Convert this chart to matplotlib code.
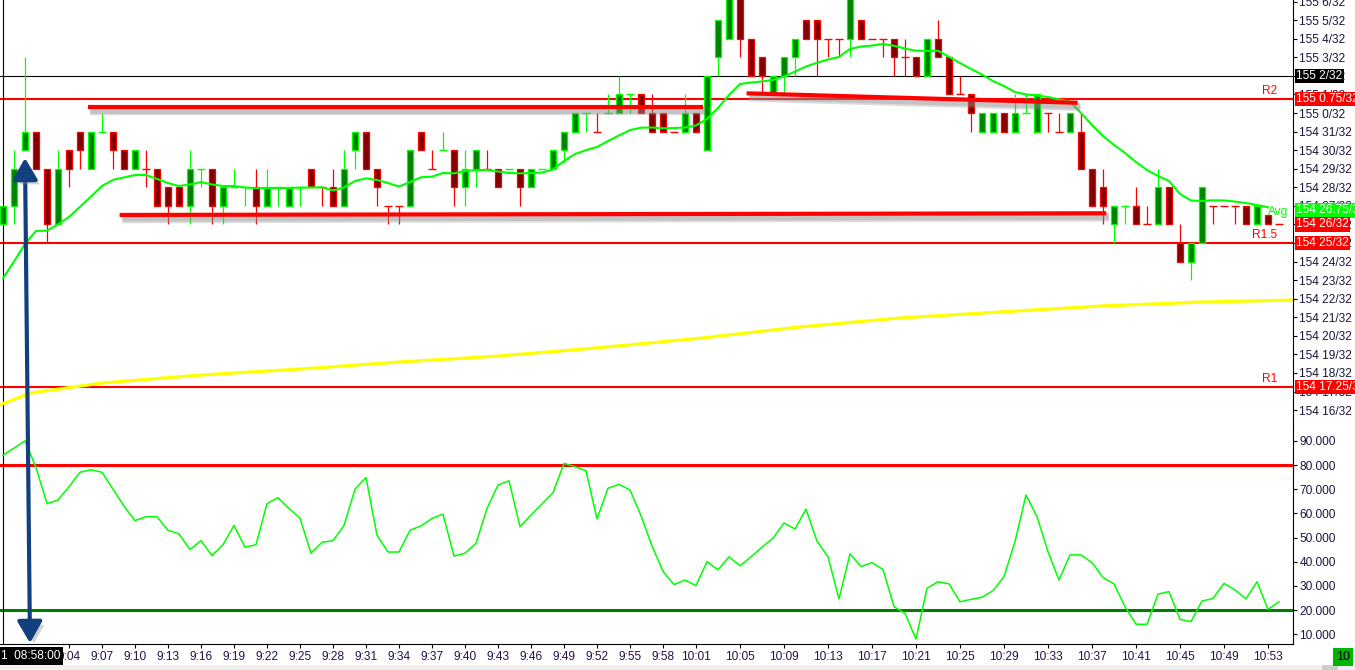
import numpy as np
import matplotlib
matplotlib.use("Agg")
import matplotlib.pyplot as plt
import matplotlib.patheffects as pe
from matplotlib.patches import FancyArrowPatch, Rectangle, ArrowStyle

plt.rcParams['font.family'] = ['Liberation Sans', 'DejaVu Sans']

# one candle per minute, first bar = 08:58; prices in 32nds above 154
opens = [26, 27, 30, 31, 29, 26, 30, 31, 29, 31,
         31, 30, 29, 29, 29, 28, 28, 27, 29, 29,
         27, 28, 28, 28, 27, 28, 27, 28, 29, 28,
         28, 27, 30, 31, 29, 27, 27, 27, 31, 29,
         30, 30, 28, 29, 29, 29, 29, 29, 28, 29,
         29, 30, 31, 32, 31, 32, 32, 33, 33, 32,
         32, 31, 31, 32, 30, 35, 36, 38.5, 36, 35,
         33, 34, 35, 37, 37, 36, 36, 36, 37, 36,
         36, 36, 35, 35, 34, 36, 35, 33, 33, 31,
         31, 32, 31, 32, 31, 32, 31, 31, 31, 29,
         28, 26, 27, 27, 26, 26, 28, 25, 24, 25,
         27, 27, 27, 27, 26, 26.5, 26]
highs = [27, 30, 35, 31, 29, 30, 30, 31, 31, 32,
         31, 30, 30, 30, 29, 28, 28, 30, 29, 29,
         28, 29, 28, 29, 29, 28, 28, 28, 29, 28,
         29, 30, 31, 31, 29, 27, 27, 30, 31, 30,
         31, 30, 30, 30, 30, 29, 29, 29, 29, 29,
         30, 31, 32, 32, 32, 33, 34, 33, 33, 33,
         32, 31, 33, 32, 34, 37, 38.5, 38.5, 36, 35,
         34, 35, 36, 37, 37, 36, 36, 38.5, 37, 36,
         36, 36, 36, 35, 36, 37, 35, 34, 33, 32,
         32, 32, 33, 33, 33, 32, 32, 32, 32, 29,
         29, 27, 27, 28, 27, 29, 28, 26, 25, 28,
         27, 27, 27, 27, 27, 26.5, 26]
lows = [26, 26, 30, 29, 25, 26, 28, 29, 29, 31,
        29, 29, 29, 28, 27, 26, 27, 26, 28, 26,
        26, 28, 27, 26, 27, 27, 27, 27, 28, 27,
        27, 27, 29, 29, 27, 26, 26, 27, 30, 29,
        30, 27, 27, 28, 29, 28, 29, 27, 28, 29,
        29, 29.3, 31, 31, 31, 32, 32, 32, 32, 31,
        31, 31, 31, 31, 30, 34, 36, 35, 34, 33,
        33, 33, 34, 36, 34, 35, 35, 35, 36, 36,
        35, 34, 34, 34, 34, 35, 33, 33, 31, 31,
        31, 31, 31, 32, 31, 31, 31, 31, 29, 27,
        26, 25, 26, 26, 26, 26, 26, 24, 23, 25,
        26, 27, 26, 26, 26, 26, 26]
closes = [27, 29, 31, 29, 26, 29, 29, 30, 31, 31,
          30, 29, 30, 29, 27, 27, 27, 29, 29, 27,
          28, 28, 28, 27, 28, 28, 28, 28, 28, 28,
          27, 29, 31, 29, 28, 27, 27, 30, 30, 29,
          30, 28, 29, 30, 29, 28, 29, 28, 29, 29,
          30, 31, 32, 32, 31, 32, 33, 33, 32, 31,
          31, 31, 32, 31, 34, 37, 38.5, 36, 34, 34,
          34, 35, 36, 36, 36, 36, 36, 38.5, 36, 36,
          36, 35, 35, 34, 36, 35, 33, 33, 32, 32,
          32, 31, 32, 32, 33, 32, 31, 32, 29, 27,
          27, 27, 27, 26, 26, 28, 26, 24, 25, 28,
          27, 27, 27, 26, 27, 26, 26]
bar_dir = ("gggrrgrrgg" "rrgrrrrggr" "gggrggggrr" "rggrrrrgrr" "grggrrgrgg"
           "ggggrgggrr" "rrgrgggrrr" "gggrrrrgrr" "rrrrgrrrrg" "grgggrrgrr"
           "rggrrgrrgg" "rrrrgrr")

avg_line = [23.1, 24.0, 24.95, 25.65, 25.66, 26.0, 26.4, 26.95, 27.5, 28.07,
            28.4, 28.53, 28.66, 28.66, 28.45, 28.23, 28.07, 28.15, 28.28, 28.15,
            28.07, 28.07, 27.99, 27.95, 27.96, 27.96, 27.96, 27.98, 27.99, 28.0,
            27.83, 27.99, 28.34, 28.48, 28.39, 28.23, 28.04, 28.28, 28.54, 28.57,
            28.77, 28.75, 28.88, 28.93, 28.93, 28.85, 28.77, 28.75, 28.77, 28.79,
            28.96, 29.42, 29.79, 30.0, 30.17, 30.49, 30.79, 31.08, 31.21, 31.22,
            31.18, 31.19, 31.22, 31.33, 31.68, 32.27, 32.97, 33.56, 33.64, 33.7,
            33.78, 33.97, 34.23, 34.5, 34.71, 34.88, 35.02, 35.45, 35.58, 35.63,
            35.72, 35.62, 35.47, 35.35, 35.35, 35.35, 35.02, 34.69, 34.37, 34.07,
            33.72, 33.45, 33.13, 33.0, 32.94, 32.86, 32.73, 32.62, 32.0, 31.35,
            30.76, 30.28, 29.85, 29.36, 28.93, 28.61, 28.34, 27.64, 27.29, 27.26,
            27.3, 27.29, 27.23, 27.15, 27.05, 26.92]

vwap_min = [-0.3, 2.5, 9, 18, 27, 36, 45, 54, 63.5, 72.5, 81.5, 90.5, 100, 109, 117.5]
vwap_val = [16.28, 16.92, 17.46, 17.89, 18.21, 18.59, 18.91, 19.35, 19.88, 20.48,
            20.96, 21.28, 21.61, 21.82, 21.93]

osc = [84, 87, 90, 79, 64, 65.5, 71, 77, 78, 77,
       70, 63, 57, 58.6, 58.6, 53, 51.5, 45, 48.7, 42.5,
       47, 55, 46, 47, 64, 66.5, 62, 58, 43.5, 48,
       48.7, 55, 70, 74.8, 51, 44, 44, 53, 54.8, 57.9,
       59.7, 42.3, 43.5, 47.6, 62, 71.7, 73.5, 54.5, 59.3, 63.9,
       68.5, 80.7, 79.3, 77.6, 57.7, 70.4, 72, 69.7, 59, 46.5,
       36, 30.5, 32.4, 30.1, 40, 36.6, 42, 38.3, 42, 46,
       49.7, 56, 53.5, 61.7, 48.5, 42, 24.6, 43.2, 38, 39.6,
       36.8, 21.4, 18.6, 8, 29, 31.7, 30.8, 23.4, 24.4, 25.3,
       28, 33.8, 48.3, 67.6, 58.6, 44.1, 32.4, 42.8, 42.8, 39.6,
       33.5, 30.8, 21.4, 14.1, 14.1, 26.6, 27.6, 16.1, 15.2, 23.7,
       24.8, 31, 28.3, 24.6, 31.7, 20.3, 23.4]

levels = [32.75, 25, 17.25]
level_names = ["R2", "R1.5", "R1"]
level_tags = ["155 0.75/32", "154 25/32", "154 17.25/32"]

# hand drawn trend lines: (start minute, start price, end minute, end price)
trend_lines = [(7.7, 32.33, 63.6, 32.33),
               (10.6, 26.51, 100.3, 26.6),
               (67.6, 33.06, 97.7, 32.55)]

time_labels = ["9:04", "9:07", "9:10", "9:13", "9:16", "9:19", "9:22", "9:25", "9:28",
               "9:31", "9:34", "9:37", "9:40", "9:43", "9:46", "9:49", "9:52", "9:55",
               "9:58", "10:01", "10:05", "10:09", "10:13", "10:17", "10:21", "10:25",
               "10:29", "10:33", "10:37", "10:41", "10:45", "10:49", "10:53"]

W, H = 1355, 670
TXT = '#17173f'
FS = 8.6


def px_rect(x0, y0, x1, y1):
    return [x0 / W, 1 - y1 / H, (x1 - x0) / W, (y1 - y0) / H]


def minute_of(label):
    hh, mm = label.split(":")
    return int(hh) * 60 + int(mm) - (8 * 60 + 58)


fig = plt.figure(figsize=(W / 100, H / 100), dpi=100)
ax = fig.add_axes(px_rect(0, 0, 1293, 425))
ax2 = fig.add_axes(px_rect(0, 425, 1293, 644), sharex=ax)

k = np.arange(len(opens))
o = np.array(opens, float)
hi = np.array(highs, float)
lo = np.array(lows, float)
c = np.array(closes, float)
up = np.array([d == 'g' for d in bar_dir])
body = o != c
line_col = np.where(up, '#00ff00', '#ff0000')
fill_col = np.where(up, '#008000', '#800000')

# levels, vwap, crosshair
for v in levels:
    ax.axhline(v, color='#ff0000', lw=1.5, zorder=2)
ax.axhline(34, color='black', lw=0.8, zorder=2)
ax.axvline(0, color='black', lw=0.8, zorder=2)
ax.plot(vwap_min, vwap_val, color='#ffff00', lw=2.3, zorder=2)

# candles
ax.vlines(k, lo, hi, colors=line_col, lw=0.9, zorder=3)
ax.bar(k[body], (c - o)[body], bottom=o[body], width=0.6,
       color=fill_col[body], edgecolor=line_col[body], lw=0.9, zorder=4)
ax.hlines(o[~body], k[~body] - 0.32, k[~body] + 0.32, colors=line_col[~body], lw=1.0, zorder=4)

ax.plot(k[:len(avg_line)], avg_line, color='#00ff00', lw=1.5, zorder=5)

shadow = [pe.SimpleLineShadow(offset=(2, -3), shadow_color='0.55', alpha=0.3, linewidth=6),
          pe.SimpleLineShadow(offset=(2, -3), shadow_color='0.55', alpha=0.3, linewidth=3.5),
          pe.Normal()]
for x0, y0, x1, y1 in trend_lines:
    ax.plot([x0, x1], [y0, y1], color='#ff0000', lw=3, solid_capstyle='butt',
            path_effects=shadow, zorder=6)

ax.set_xlim((0 - 3) / 11, (1293 - 3) / 11)
ax.set_ylim(32 - 312 / 18.57, 32 + 113 / 18.57)

yt = np.arange(16, 39)
ax.set_yticks(yt)
ax.set_yticklabels([f"{154 + v // 32} {v % 32}/32" for v in yt])
ax.yaxis.tick_right()
ax.tick_params(axis='y', length=3, width=0.8, pad=1.5, labelsize=FS, labelcolor=TXT)
ax.tick_params(axis='x', bottom=False, labelbottom=False)
for s in ['top', 'left', 'bottom']:
    ax.spines[s].set_visible(False)
ax.spines['right'].set_linewidth(0.8)

# text on the price pane
ytrans = ax.get_yaxis_transform()
for v, name, tag in zip(levels, level_names, level_tags):
    ax.annotate(name, xy=(1277 / 1293, v), xycoords=ytrans, xytext=(0, 1.5),
                textcoords='offset points', ha='right', va='bottom', color='#ff0000',
                fontsize=FS, annotation_clip=False)
    ax.annotate(tag, xy=(1, v), xycoords=ytrans, xytext=(2.2, 0), textcoords='offset points',
                ha='left', va='center', fontsize=FS, color='white', annotation_clip=False,
                bbox=dict(boxstyle='square,pad=0.1', fc='#ff0000', ec='none'), zorder=10)
ax.annotate("Avg", xy=(len(avg_line) - 1, avg_line[-1]), xytext=(0, -3),
            textcoords='offset points', ha='left', va='center', color='#00ff00', fontsize=FS)
for v, tag, bg in [(34, "155 2/32", 'black'), (26.75, "154 26.75/32", '#00ff00'),
                   (closes[-1], "154 26/32", '#ff0000')]:
    ax.annotate(tag, xy=(1, v), xycoords=ytrans, xytext=(2.2, 0), textcoords='offset points',
                ha='left', va='center', fontsize=FS, color='white', annotation_clip=False,
                bbox=dict(boxstyle='square,pad=0.1', fc=bg, ec='none'), zorder=10)

# oscillator pane
ax2.axhline(80, color='#ff0000', lw=2.2, zorder=2)
ax2.axhline(20, color='#008000', lw=2.2, zorder=2)
ax2.axvline(0, color='black', lw=0.8, zorder=2)
ax2.plot(k[:len(osc)], osc, color='#00ff00', lw=1.1, zorder=3)
ax2.set_ylim(80 - 179 / 2.4167, 80 + 40 / 2.4167)
ot = np.arange(10, 100, 10)
ax2.set_yticks(ot)
ax2.set_yticklabels([f"{v:.3f}" for v in ot])
ax2.yaxis.tick_right()
ax2.tick_params(axis='y', length=3, width=0.8, pad=1.5, labelsize=FS, labelcolor=TXT)
ax2.set_xticks([minute_of(t) for t in time_labels])
ax2.set_xticklabels(time_labels)
ax2.tick_params(axis='x', length=3, width=0.8, pad=2, labelsize=FS, labelcolor='#2a0f45')
for s in ['top', 'left']:
    ax2.spines[s].set_visible(False)
ax2.spines['right'].set_linewidth(0.8)
ax2.spines['bottom'].set_linewidth(0.8)

# navy double arrow across both panes
arrow = FancyArrowPatch((25 / W, 1 - 158 / H), (30 / W, 1 - 643 / H), transform=fig.transFigure,
                        arrowstyle=ArrowStyle('<|-|>', head_length=13, head_width=7.5),
                        mutation_scale=1, lw=3, color='#12407e', shrinkA=0, shrinkB=0,
                        path_effects=[pe.withSimplePatchShadow(offset=(3, -3), shadow_rgbFace='0.55',
                                                               alpha=0.4)])
fig.add_artist(arrow)

fig.add_artist(Rectangle((0, 0), 1, 5 / H, transform=fig.transFigure, fc='#f0f0f0', ec='none'))
fig.add_artist(Rectangle((1322 / W, 0), 16 / W, 5 / H, transform=fig.transFigure, fc='#cdcdcd', ec='none'))
fig.text(1 / W, 1 - 656 / H, "1  08:58:00", color='white', fontsize=FS, ha='left', va='center',
         bbox=dict(boxstyle='square,pad=0.25', fc='black', ec='none'))
fig.text(1343 / W, 1 - 657 / H, "10", color='black', fontsize=9, ha='center', va='center',
         bbox=dict(boxstyle='square,pad=0.25', fc='#00b400', ec='none'))

fig.savefig("out.png", dpi=100)
